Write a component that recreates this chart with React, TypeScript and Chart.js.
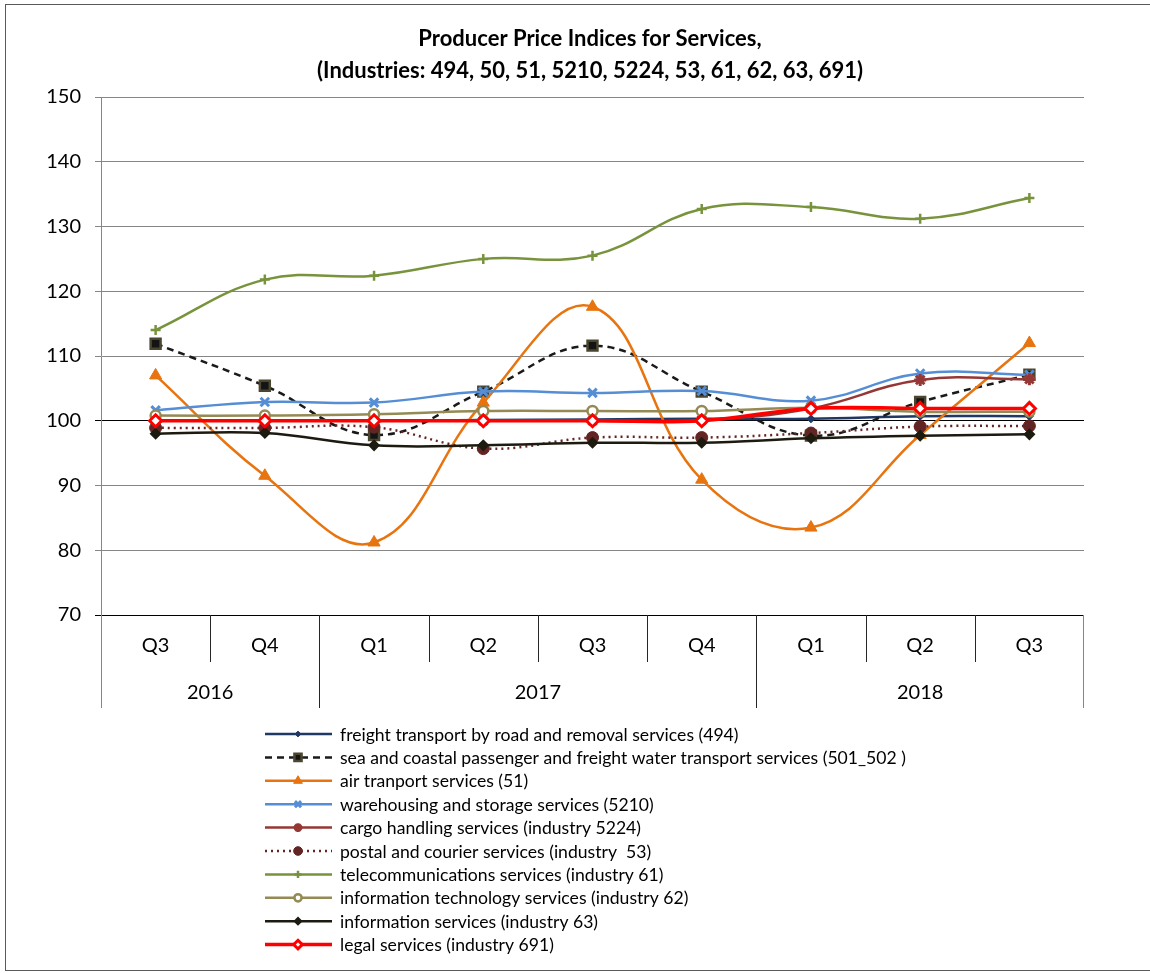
import React, { useEffect, useRef } from "react";
import { Chart, registerables } from "chart.js";
import { drawPoint } from "chart.js/helpers";

Chart.register(...registerables);

const quarters = ["Q3", "Q4", "Q1", "Q2", "Q3", "Q4", "Q1", "Q2", "Q3"];
const years = ["2016", "2017", "2018"];
const yearSpans = [2, 4, 3];
const titleLines = [
  "Producer Price Indices for Services,",
  "(Industries: 494, 50, 51, 5210, 5224, 53, 61, 62, 63, 691)",
];

const freight = [100.0, 100.0, 100.0, 100.1, 100.2, 100.3, 100.3, 100.7, 100.7];
const sea = [111.9, 105.4, 97.8, 104.5, 111.6, 104.5, 97.7, 102.9, 107.1];
const air = [107.0, 91.5, 81.2, 102.8, 117.6, 90.9, 83.5, 97.8, 112.0];
const warehousing = [101.6, 102.9, 102.8, 104.5, 104.3, 104.6, 103.1, 107.3, 107.1];
const cargo = [100.0, 100.0, 100.0, 100.0, 100.0, 100.1, 101.9, 106.3, 106.4];
const postal = [98.9, 98.9, 99.0, 95.7, 97.4, 97.4, 98.1, 99.1, 99.2];
const telecom = [114.0, 121.8, 122.4, 125.0, 125.5, 132.7, 133.0, 131.2, 134.4];
const infoTech = [100.8, 100.8, 101.0, 101.5, 101.5, 101.5, 102.0, 101.4, 101.4];
const infoServices = [98.0, 98.1, 96.2, 96.2, 96.6, 96.6, 97.3, 97.7, 97.9];
const legal = [100.0, 100.0, 100.0, 100.0, 100.0, 100.0, 101.9, 101.9, 101.9];

const seriesNames = [
  "freight transport by road and removal services (494)",
  "sea and coastal passenger and freight water transport services (501_502 )",
  "air tranport services (51)",
  "warehousing and storage services (5210)",
  "cargo handling services (industry 5224)",
  "postal and courier services (industry  53)",
  "telecommunications services (industry 61)",
  "information technology services (industry 62)",
  "information services (industry 63)",
  "legal services (industry 691)",
];

const FONT = "Lato, 'Noto Sans', sans-serif";

const frame = {
  id: "frame",
  beforeDraw(chart: any) {
    const ctx = chart.ctx;
    ctx.save();
    ctx.fillStyle = "#ffffff";
    ctx.fillRect(0, 0, chart.width, chart.height);
    ctx.restore();
  },
  afterDraw(chart: any) {
    const ctx = chart.ctx;
    const area = chart.chartArea;
    const x = chart.scales.x;
    ctx.save();
    // outer border
    ctx.strokeStyle = "#5a5a5a";
    ctx.lineWidth = 1;
    ctx.strokeRect(5.5, 4.5, 1300, 966);
    // title
    ctx.fillStyle = "#000";
    ctx.font = `bold 22px ${FONT}`;
    ctx.textAlign = "center";
    ctx.textBaseline = "middle";
    titleLines.forEach((t, i) => ctx.fillText(t, 590, 39 + i * 32));

    // category axis
    const bottom = area.bottom;
    const n = quarters.length;
    const w = (area.right - area.left) / n;
    ctx.strokeStyle = "#000";
    ctx.beginPath();
    ctx.moveTo(area.left - 6, bottom + 0.5);
    ctx.lineTo(area.right, bottom + 0.5);
    ctx.stroke();
    // y axis extension
    ctx.strokeStyle = "#868686";
    ctx.beginPath();
    ctx.moveTo(Math.round(area.left) + 0.5, bottom);
    ctx.lineTo(Math.round(area.left) + 0.5, bottom + 93);
    ctx.moveTo(Math.round(area.right) - 0.5, bottom);
    ctx.lineTo(Math.round(area.right) - 0.5, bottom + 93);
    ctx.stroke();
    // separators
    const groupEdges = new Set<number>();
    let acc = 0;
    yearSpans.forEach((s) => {
      acc += s;
      groupEdges.add(acc);
    });
    ctx.strokeStyle = "#262626";
    ctx.beginPath();
    for (let i = 1; i < n; i++) {
      const xx = Math.round(area.left + i * w) + 0.5;
      ctx.moveTo(xx, bottom);
      ctx.lineTo(xx, bottom + (groupEdges.has(i) ? 93 : 47));
    }
    ctx.stroke();
    // labels
    ctx.font = `20px ${FONT}`;
    ctx.fillStyle = "#000";
    quarters.forEach((q, i) => {
      ctx.fillText(q, x.getPixelForValue(i), bottom + 31);
    });
    let start = 0;
    years.forEach((yr, i) => {
      const span = yearSpans[i];
      const cx = area.left + (start + span / 2) * w;
      ctx.fillText(yr, cx, bottom + 78);
      start += span;
    });

    // legend
    ctx.textAlign = "left";
    ctx.font = `17.6px ${FONT}`;
    chart.data.datasets.forEach((ds: any, i: number) => {
      const ly = 734 + i * 23.4;
      ctx.save();
      ctx.strokeStyle = ds.borderColor;
      ctx.lineWidth = ds.borderWidth;
      ctx.setLineDash(ds.borderDash || []);
      ctx.beginPath();
      ctx.moveTo(265, ly);
      ctx.lineTo(332, ly);
      ctx.stroke();
      ctx.setLineDash([]);
      ctx.fillStyle = ds.pointBackgroundColor;
      ctx.strokeStyle = ds.pointBorderColor;
      ctx.lineWidth = ds.pointBorderWidth;
      drawPoint(ctx, {
        pointStyle: ds.pointStyle,
        rotation: 0,
        radius: ds.pointRadius * 0.72,
        borderWidth: ds.pointBorderWidth,
      } as any, 298, ly);
      ctx.restore();
      ctx.fillStyle = "#000";
      ctx.textBaseline = "middle";
      ctx.fillText(seriesNames[i], 340, ly + 1);
    });
    ctx.restore();
  },
};

function mk(
  idx: number,
  data: number[],
  color: string,
  width: number,
  style: string,
  radius: number,
  bg: string,
  pborder: string,
  pbw: number,
  dash?: number[]
) {
  return {
    label: seriesNames[idx],
    data,
    borderColor: color,
    backgroundColor: color,
    borderWidth: width,
    borderDash: dash || [],
    pointStyle: style,
    pointRadius: radius,
    pointBackgroundColor: bg,
    pointBorderColor: pborder,
    pointBorderWidth: pbw,
    tension: 0.4,
    order: 10 - idx,
    clip: false,
  };
}

export default function App() {
  const ref = useRef<HTMLCanvasElement>(null);
  useEffect(() => {
    if (!ref.current) return;
    const chart = new Chart(ref.current, {
      type: "line",
      data: {
        labels: quarters.map((q, i) => `${q}-${i}`),
        datasets: [
          mk(0, freight, "#1F3864", 2.5, "rectRot", 4, "#1F3864", "#1F3864", 1),
          mk(1, sea, "#1a1a1a", 2.5, "rect", 7, "#141414", "#4A4630", 2.5, [7, 5]),
          mk(2, air, "#E8740F", 2.5, "triangle", 7, "#E8740F", "#E8740F", 1),
          mk(3, warehousing, "#558ED5", 2.5, "crossRot", 6, "#558ED5", "#558ED5", 3),
          mk(4, cargo, "#953735", 2.5, "star", 6, "#953735", "#953735", 3),
          mk(5, postal, "#632523", 2.5, "circle", 6, "#632523", "#632523", 1, [2, 4]),
          mk(6, telecom, "#77933C", 2.5, "cross", 5, "#77933C", "#77933C", 2.5),
          mk(7, infoTech, "#948A54", 2.5, "circle", 5, "#ffffff", "#948A54", 2.5),
          mk(8, infoServices, "#1D1B10", 2.5, "rectRot", 5, "#1D1B10", "#1D1B10", 1.5),
          mk(9, legal, "#FF0000", 3.5, "rectRot", 6, "#ffffff", "#FF0000", 3),
        ] as any,
      },
      options: {
        responsive: false,
        animation: false,
        devicePixelRatio: 1,
        layout: { padding: { top: 97, left: 0, right: 66, bottom: 358 } },
        plugins: {
          legend: { display: false },
          title: { display: false },
          tooltip: { enabled: false },
        },
        scales: {
          x: { type: "category", display: false, offset: true },
          y: {
            min: 70,
            max: 150,
            afterFit: (s: any) => {
              s.width = 101;
            },
            ticks: {
              stepSize: 10,
              color: "#000",
              font: { family: FONT, size: 20 },
              padding: 14,
            },
            grid: {
              color: (c: any) =>
                c.tick && (c.tick.value === 100 || c.tick.value === 70) ? "#000" : "#868686",
              lineWidth: 1,
              tickLength: 6,
            },
            border: { display: true, color: "#868686" },
          },
        },
      } as any,
      plugins: [frame],
    });
    return () => chart.destroy();
  }, []);
  return (
    <div style={{ position: "absolute", left: 0, top: 0, width: 1150, height: 973 }}>
      <canvas ref={ref} width={1150} height={973} style={{ width: 1150, height: 973 }} />
    </div>
  );
}
